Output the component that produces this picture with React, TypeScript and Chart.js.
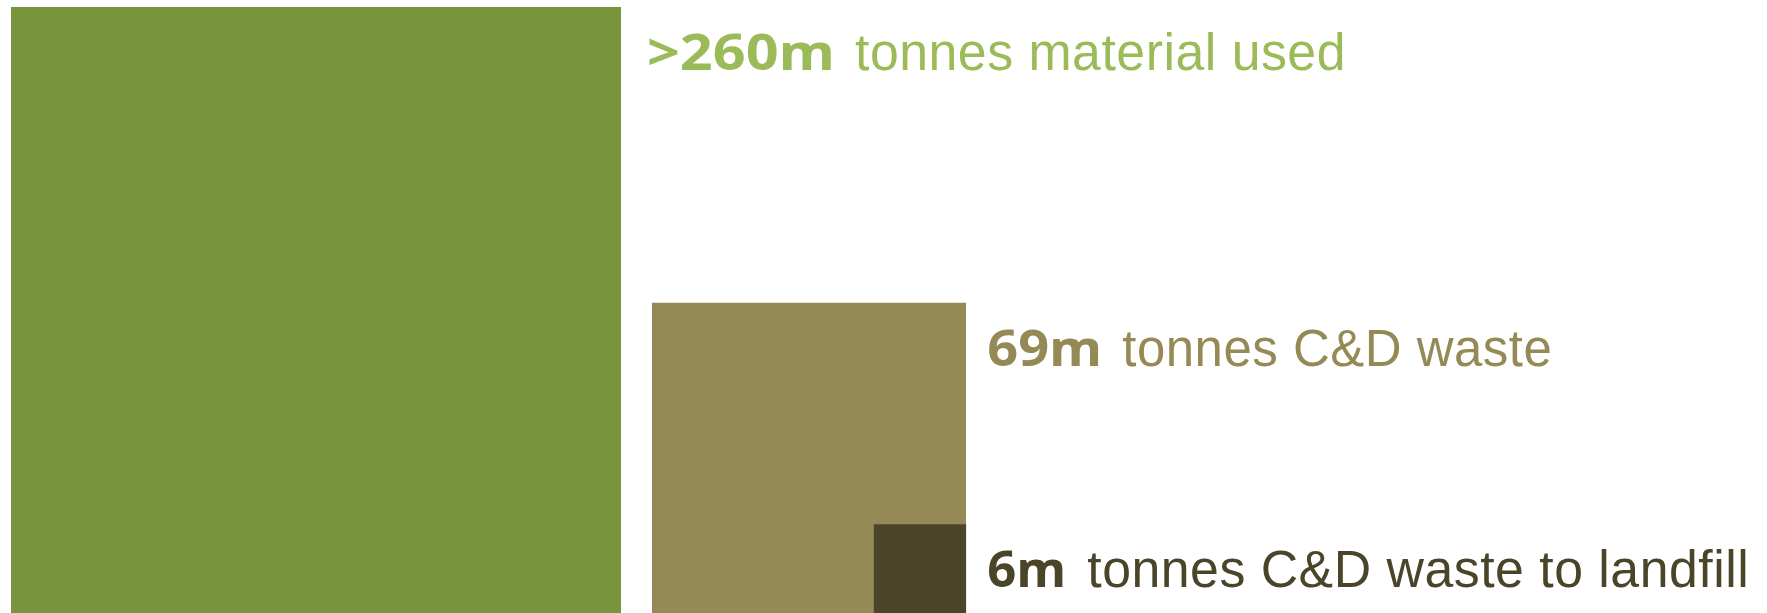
import React, { useEffect, useRef } from "react";
import { Chart, registerables } from "chart.js";

Chart.register(...registerables);

// ---- data ----
const categories = ["material used", "C&D waste", "C&D waste to landfill"];
const valuesMt = [260, 69, 6]; // million tonnes
const boldLabels = [">260m", "69m", "6m"];
const textLabels = ["tonnes material used", "tonnes C&D waste", "tonnes C&D waste to landfill"];

// ---- styles / layout ----
const fillColors = ["#78943C", "#958A55", "#4A4429"];
const textColors = ["#9BBB59", "#958A55", "#4A4429"];
const W = 1767;
const H = 613;
const PAD_LEFT = 11;
const PX_PER_UNIT = 37.83;
const BOTTOM_OVERHANG = 4; // squares run 4px past the bottom edge
const GAP_UNITS = 0.82;
const textGapPx = [26, 21, 21];
const boldWidthPx = [188, 115, 79];
const regWidthPx = [491, 430, 662];
const spaceGapPx = [20, 20, 21];
const BASELINE_BELOW_TOP = 63;
const BOLD_SIZE = 50;
const REG_SIZE = 51;

// square geometry derived from values (area proportional to value)
const sides = valuesMt.map((v) => Math.sqrt(v));
const x0s: number[] = [];
x0s[0] = 0;
x0s[1] = sides[0] + GAP_UNITS;
x0s[2] = x0s[1] + sides[1] - sides[2];

export default function App() {
  const ref = useRef<HTMLCanvasElement | null>(null);

  useEffect(() => {
    if (!ref.current) return;
    const order = [2, 1, 0]; // smallest first so it's drawn on top
    const labelPlugin = {
      id: "squareLabels",
      afterDatasetsDraw(chart: any) {
        const ctx = chart.ctx as any;
        const xs = chart.scales.x;
        const ys = chart.scales.y;
        categories.forEach((_, i) => {
          const xRight = xs.getPixelForValue(x0s[i] + sides[i]);
          const top = ys.getPixelForValue(sides[i]);
          const x = xRight + textGapPx[i];
          const base = top + BASELINE_BELOW_TOP;
          ctx.save();
          ctx.fillStyle = textColors[i];
          ctx.textBaseline = "alphabetic";
          ctx.textAlign = "left";
          // bold part
          ctx.font = `bold ${BOLD_SIZE}px "Open Sans", Lato, sans-serif`;
          const wb = ctx.measureText(boldLabels[i]).width;
          ctx.save();
          ctx.translate(x, base);
          ctx.scale(boldWidthPx[i] / wb, 1);
          ctx.fillText(boldLabels[i], 0, 0);
          ctx.restore();
          // regular part (letter spacing keeps f and i separate, as in the reference)
          ctx.font = `${REG_SIZE}px "Liberation Sans", Arial, sans-serif`;
          if ("letterSpacing" in ctx) ctx.letterSpacing = "0.5px";
          const wr = ctx.measureText(textLabels[i]).width;
          ctx.save();
          ctx.translate(x + boldWidthPx[i] + spaceGapPx[i], base);
          ctx.scale(regWidthPx[i] / wr, 1);
          ctx.fillText(textLabels[i], 0, 0);
          ctx.restore();
          ctx.restore();
        });
      },
    };

    const chart = new Chart(ref.current, {
      type: "line",
      data: {
        datasets: order.map((i) => ({
          label: categories[i],
          data: [
            { x: x0s[i], y: sides[i] },
            { x: x0s[i] + sides[i], y: sides[i] },
          ],
          fill: "origin",
          backgroundColor: fillColors[i],
          borderColor: "rgba(0,0,0,0)",
          borderWidth: 0,
          pointRadius: 0,
          tension: 0,
        })),
      },
      options: {
        responsive: false,
        animation: false,
        layout: { padding: { left: PAD_LEFT, right: 0, top: 0, bottom: 0 } },
        plugins: { legend: { display: false }, tooltip: { enabled: false } },
        scales: {
          x: {
            type: "linear",
            display: false,
            min: 0,
            max: (W - PAD_LEFT) / PX_PER_UNIT,
          },
          y: {
            type: "linear",
            display: false,
            min: BOTTOM_OVERHANG / PX_PER_UNIT,
            max: (H + BOTTOM_OVERHANG) / PX_PER_UNIT,
          },
        },
      },
      plugins: [labelPlugin],
    });
    return () => chart.destroy();
  }, []);

  return (
    <div style={{ position: "fixed", left: 0, top: 0, width: W, height: H, background: "#fff" }}>
      <canvas ref={ref} width={W} height={H} style={{ display: "block", width: W, height: H }} />
    </div>
  );
}
